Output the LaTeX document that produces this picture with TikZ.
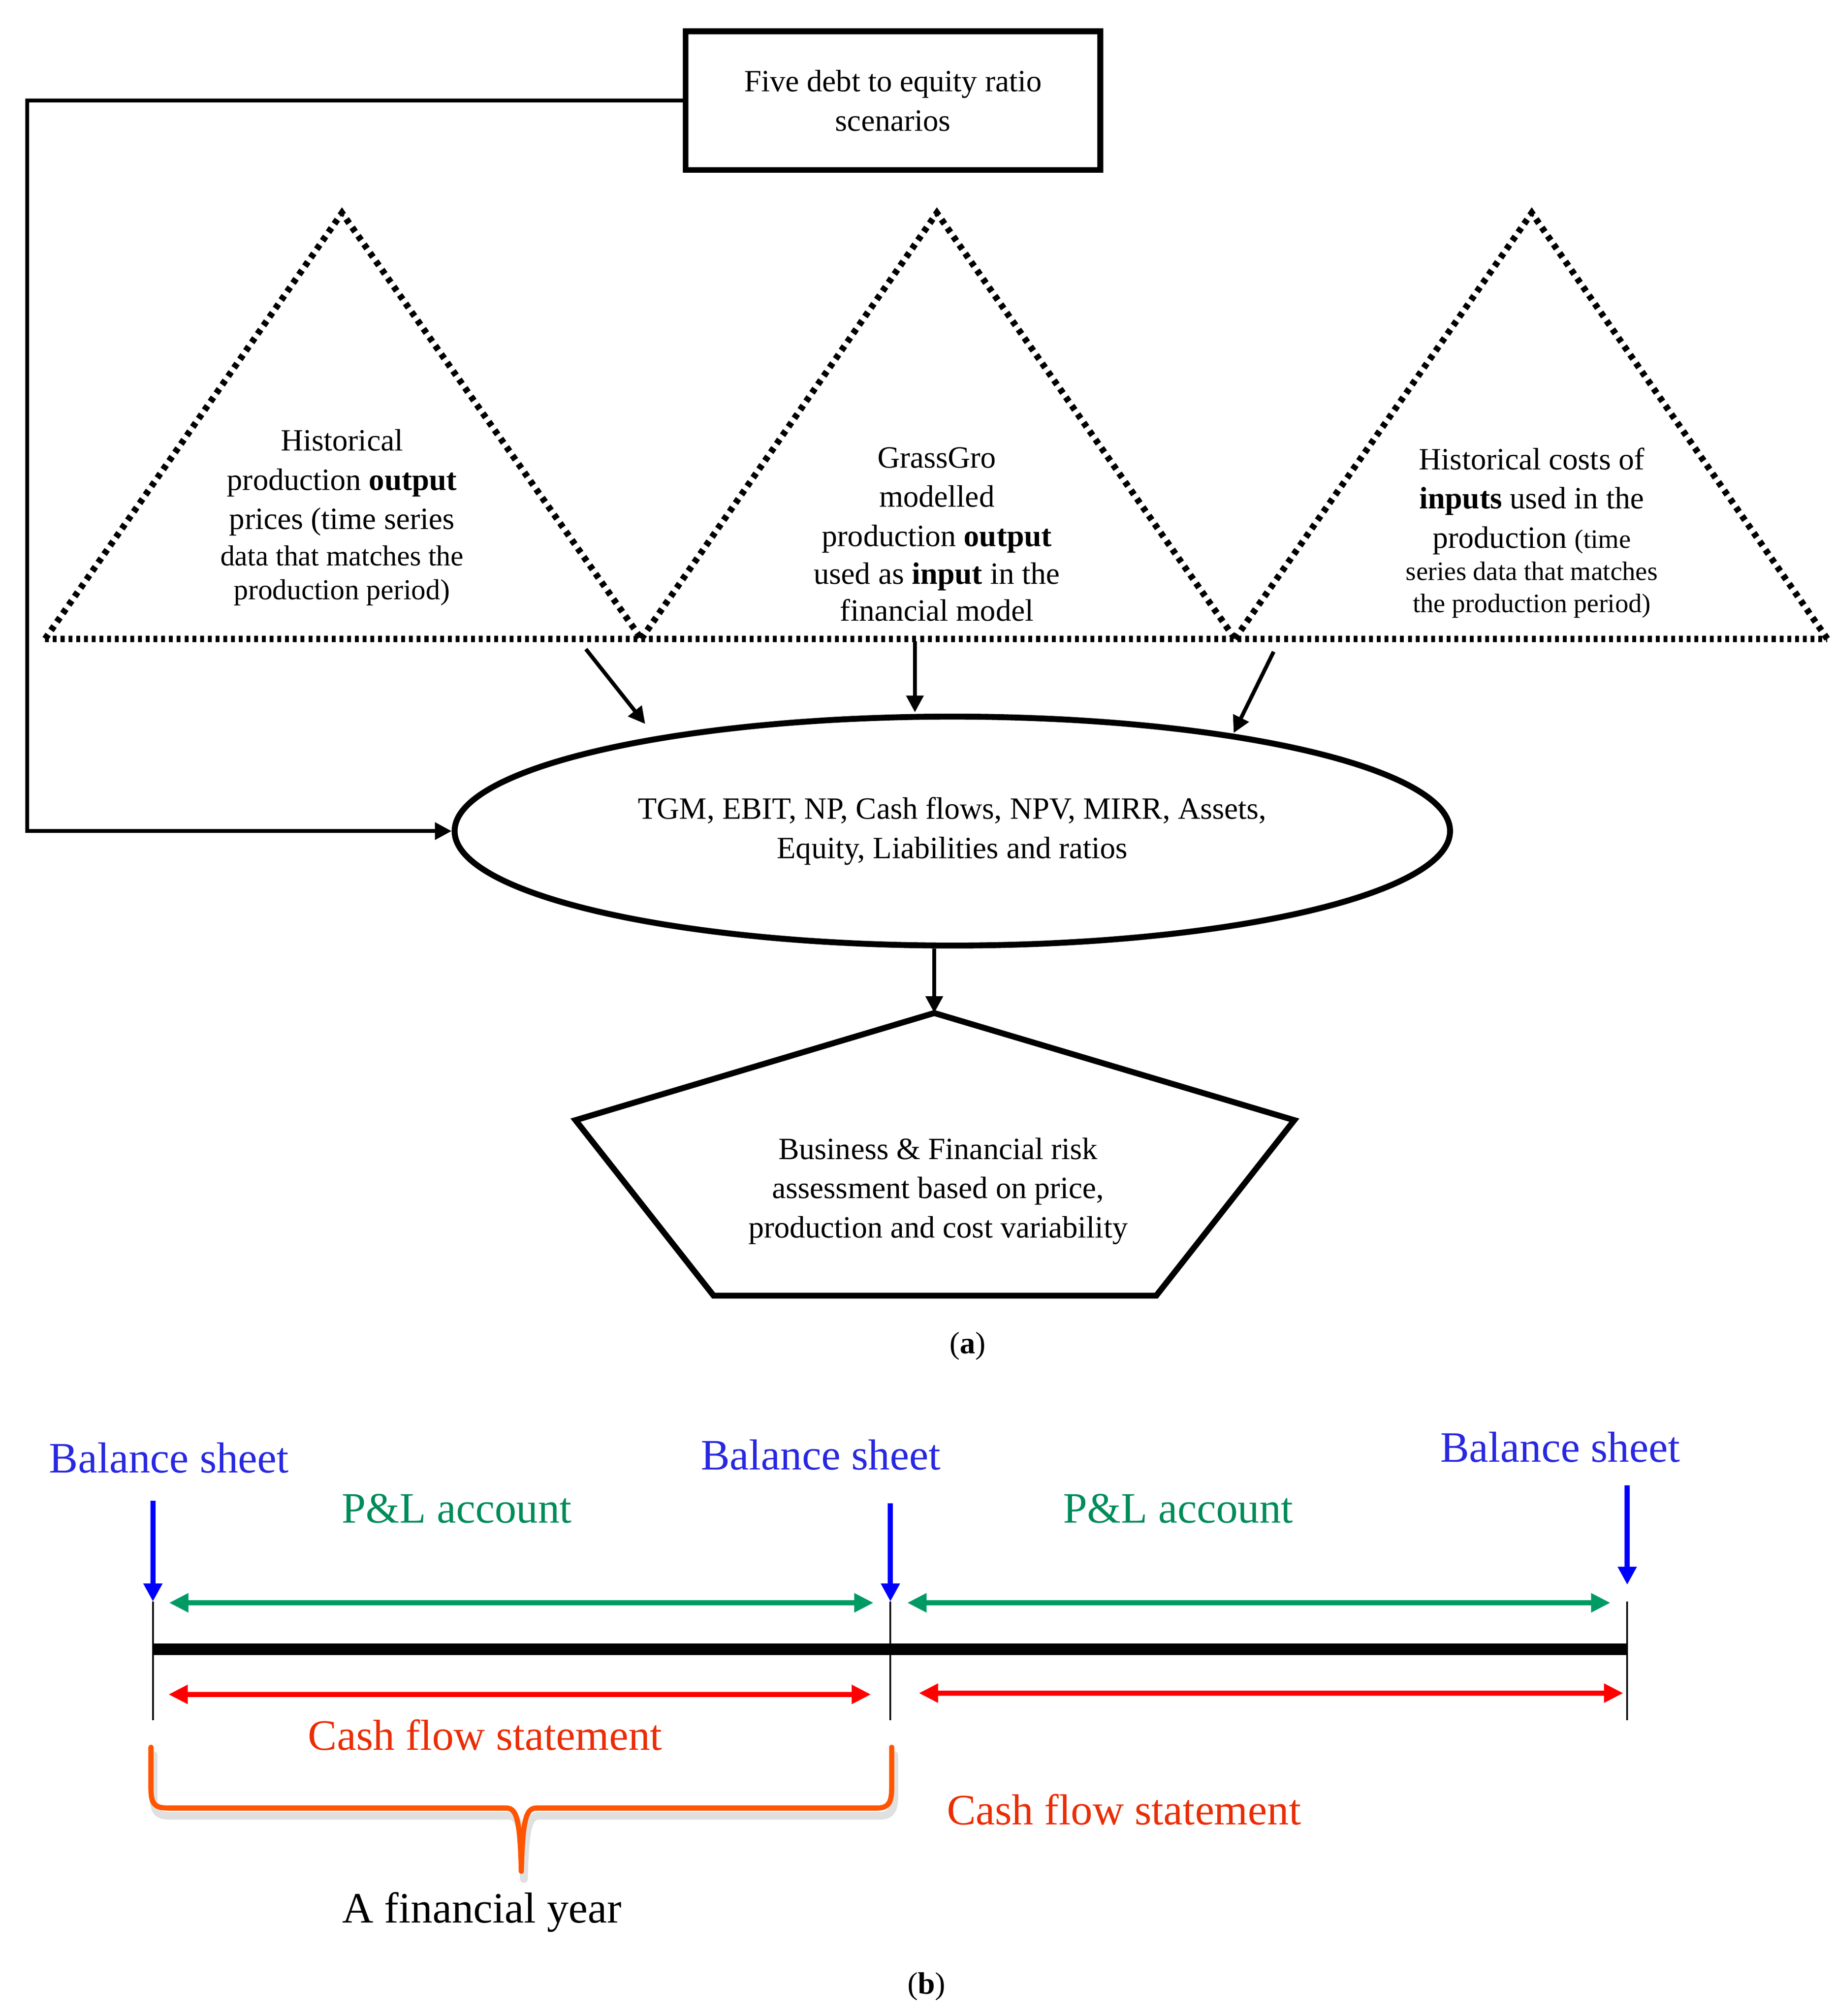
\documentclass[tikz,border=0pt]{standalone}
\usepackage{fontspec}
\setmainfont{Liberation Serif}
\usetikzlibrary{arrows.meta,shapes.geometric}
\definecolor{bsblue}{RGB}{40,40,225}
\definecolor{arrblue}{RGB}{0,0,255}
\definecolor{plgreen}{RGB}{0,140,90}
\definecolor{arrgreen}{RGB}{0,155,100}
\definecolor{cftext}{RGB}{235,45,5}
\definecolor{arrred}{RGB}{255,0,0}
\definecolor{braceorange}{RGB}{255,85,0}
\begin{document}
\begin{tikzpicture}[x=0.5pt,y=-0.5pt,
  bodyfont/.style={font=\fontsize{12}{15.2}\selectfont},
  frame/.style={draw=black,line width=2.3pt},
  conn/.style={draw=black,line width=1.5pt,-{Triangle[length=6.5pt,width=6.5pt]}},
  dotbase/.style={line width=2.5pt,dash pattern=on 1.5pt off 1.5pt},
  dotside/.style={line width=2.5pt,dash pattern=on 2pt off 2pt},
  blabel/.style={font=\fontsize{16.8}{20}\selectfont,anchor=base,inner sep=0pt},
  bsarrow/.style={draw=arrblue,line width=2pt,-{Triangle[length=7pt,width=7pt]}},
  plarrow/.style={draw=arrgreen,line width=2pt,{Triangle[length=7.5pt,width=7pt]}-{Triangle[length=7.5pt,width=7pt]}},
  cfarrow/.style={draw=arrred,line width=2pt,{Triangle[length=7.5pt,width=7pt]}-{Triangle[length=7.5pt,width=7pt]}},
  tick/.style={draw=black,line width=0.7pt},
  bracestyle/.style={draw=braceorange,line width=2pt,line cap=round,line join=round},
]
\useasboundingbox (0,0) rectangle (1422,1562.2);

% ---------- part (a) ----------
\node[frame,rectangle,minimum width=160.7pt,minimum height=53.7pt,bodyfont,align=center,inner sep=0pt] (box) at (692,78) {Five debt to equity ratio\\scenarios};

% triangles
\coordinate (b0) at (35,495);
\coordinate (b1) at (497,495);
\coordinate (b2) at (957,495);
\coordinate (b3) at (1416,495);
\coordinate (t1) at (265,165);
\coordinate (t2) at (726,165);
\coordinate (t3) at (1187,165);
\draw[dotside] (b0) -- (t1) -- (b1);
\draw[dotside] (b1) -- (t2) -- (b2);
\draw[dotside] (b2) -- (t3) -- (b3);
\draw[dotbase] (b0) -- (b3);

\node[bodyfont,align=center] (tx1) at (265,401) {Historical\\production \textbf{output}\\prices (time series\\[-1.2pt]{\fontsize{11.2}{13}\selectfont data that matches the}\\[-2pt]{\fontsize{11.2}{13}\selectfont production period)}};
\node[bodyfont,align=center] (tx2) at (726,414) {GrassGro\\modelled\\production \textbf{output}\\[-0.5pt]used as \textbf{input} in the\\[-1pt]financial model};
\node[bodyfont,align=center] (tx3) at (1187,413) {Historical costs of\\\textbf{inputs} used in the\\production {\fontsize{10.3}{12}\selectfont (time}\\[-2.7pt]{\fontsize{10.3}{12}\selectfont series data that matches}\\[-2.7pt]{\fontsize{10.3}{12}\selectfont the production period)}};

% ellipse
\node[frame,ellipse,minimum width=385.7pt,minimum height=88.7pt,bodyfont,align=center,inner sep=0pt] (ell) at (738,644) {TGM, EBIT, NP, Cash flows, NPV, MIRR, Assets,\\Equity, Liabilities and ratios};

% feedback connector
\coordinate (fb) at (21,78);
\draw[conn] (box.west) -- (fb) |- (ell.west);

% arrows triangles -> ellipse
\coordinate (s1) at (454,503);
\coordinate (e1) at (500,561);
\coordinate (s2) at (709,497);
\coordinate (e2) at (709,552);
\coordinate (s3) at (987,505);
\coordinate (e3) at (956,568);
\draw[conn] (s1) -- (e1);
\draw[conn] (s2) -- (e2);
\draw[conn] (s3) -- (e3);

% pentagon
\coordinate (pa) at (724,785);
\coordinate (pur) at (1003,868);
\coordinate (plr) at (896,1004);
\coordinate (pll) at (553,1004);
\coordinate (pul) at (446,868);
\draw[frame,line join=miter] (pa) -- (pur) -- (plr) -- (pll) -- (pul) -- cycle;
\node[bodyfont,align=center] (ptext) at (727,923) {Business \& Financial risk\\assessment based on price,\\production and cost variability};
\draw[conn] (ell.south -| pa) -- (pa);

\node[bodyfont] (capa) at (750,1043) {(\textbf{a})};

% ---------- part (b) ----------
\coordinate (k0t) at (118.5,1241);
\coordinate (k0b) at (118.5,1333);
\coordinate (k1t) at (690,1241);
\coordinate (k1b) at (690,1333);
\coordinate (k2t) at (1261,1241);
\coordinate (k2b) at (1261,1333);
\draw[tick] (k0t) -- (k0b);
\draw[tick] (k1t) -- (k1b);
\draw[tick] (k2t) -- (k2b);

\coordinate (L0) at (118.5,1278);
\coordinate (L2) at (1261,1278);
\draw[line width=4.5pt] (L0) -- (L2);

\coordinate (a0) at (118.5,1163);
\coordinate (a1) at (690,1165);
\coordinate (a2) at (1261,1151);
\coordinate (a2e) at (1261,1228);
\draw[bsarrow] (a0) -- (k0t);
\draw[bsarrow] (a1) -- (k1t);
\draw[bsarrow] (a2) -- (a2e);

\coordinate (g0) at (131,1242);
\coordinate (g1) at (677,1242);
\coordinate (g2) at (703,1242);
\coordinate (g3) at (1248,1242);
\draw[plarrow] (g0) -- (g1);
\draw[plarrow] (g2) -- (g3);

\coordinate (r0) at (130.5,1313);
\coordinate (r1) at (675,1313);
\coordinate (r2) at (712,1312);
\coordinate (r3) at (1258,1312);
\draw[cfarrow] (r0) -- (r1);
\draw[cfarrow] (r2) -- (r3);

\node[blabel,text=bsblue] (bs1) at (131,1141) {Balance sheet};
\node[blabel,text=bsblue] (bs2) at (636,1139) {Balance sheet};
\node[blabel,text=bsblue] (bs3) at (1209,1133) {Balance sheet};
\node[blabel,text=plgreen] (pl1) at (354,1180) {P\&L account};
\node[blabel,text=plgreen] (pl2) at (913,1180) {P\&L account};
\node[blabel,text=cftext] (cf1) at (376,1356) {Cash flow statement};
\node[blabel,text=cftext] (cf2) at (871,1414) {Cash flow statement};
\node[blabel,text=black] (fy) at (373.5,1490) {A financial year};
\node[bodyfont,anchor=base,inner sep=0pt] (capb) at (718,1545) {(\textbf{b})};

% brace with soft shadow
\draw[black,opacity=0.12,line width=3pt,line cap=round,line join=round,shift={(2,6)}] (117,1354) -- (117,1386) .. controls (117,1398) and (120,1401) .. (130,1401) -- (392,1401) .. controls (400,1401) and (403,1408) .. (404,1450) .. controls (405,1408) and (408,1401) .. (416,1401) -- (680,1401) .. controls (688,1401) and (691,1397) .. (691,1386) -- (691,1354);
\draw[bracestyle] (117,1354) -- (117,1386) .. controls (117,1398) and (120,1401) .. (130,1401) -- (392,1401) .. controls (400,1401) and (403,1408) .. (404,1450) .. controls (405,1408) and (408,1401) .. (416,1401) -- (680,1401) .. controls (688,1401) and (691,1397) .. (691,1386) -- (691,1354);
\end{tikzpicture}
\end{document}
